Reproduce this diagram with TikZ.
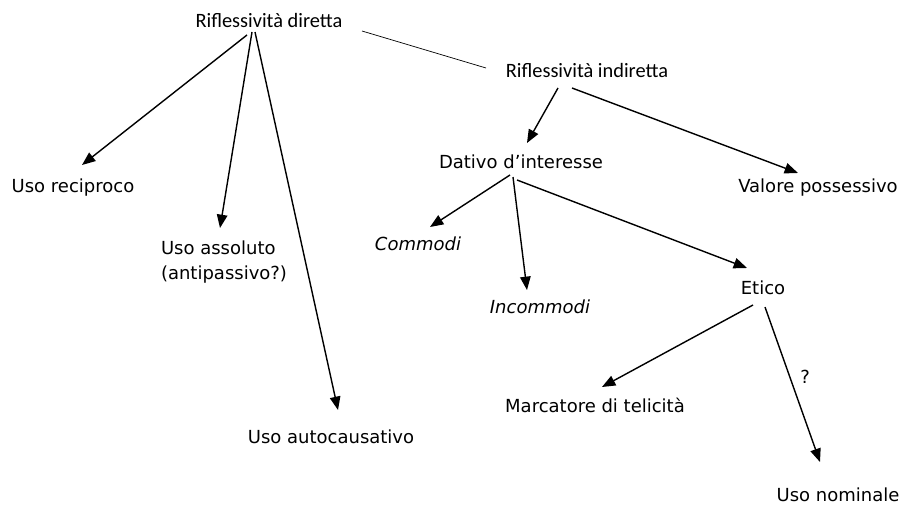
\documentclass[tikz,border=0pt]{standalone}
\usepackage{fontspec}
\setmainfont{DejaVu Sans}
\newfontfamily\topfont{Carlito}
\usetikzlibrary{arrows.meta,calc}

\begin{document}
\begin{tikzpicture}[
        x=0.025cm, y=-0.025cm,
        term/.style={inner sep=1pt, align=left, font=\fontsize{12.8}{18}\selectfont},
        root/.style={inner sep=1pt, font=\topfont\fontsize{14.5}{17}\selectfont},
        arrow/.style={-{Triangle[length=9.5pt, width=7.5pt]}, line width=1pt},
        link/.style={line width=0.5pt}
    ]
        \useasboundingbox (0,0) rectangle (904,506);

        \node[root] (diretta) at (269,20) {Riflessività diretta};
        \node[root] (indiretta) at (587,70) {Riflessività indiretta};

        \node[term] (reciproco) at (73,188) {Uso reciproco};
        \node[term] (assoluto) at (224,262) {Uso assoluto\\(antipassivo?)};
        \node[term] (autocaus) at (331,437) {Uso autocausativo};

        \node[term] (dativo) at (521,162) {Dativo d’interesse};
        \node[term] (possessivo) at (818,188) {Valore possessivo};
        \node[term] (commodi) at (418,244) {\itshape Commodi};
        \node[term] (incommodi) at (540,307) {\itshape Incommodi};
        \node[term] (etico) at (763,288) {Etico};
        \node[term] (telicita) at (595,405) {Marcatore di telicità};
        \node[term] (nominale) at (838,495) {Uso nominale};

        \draw[link] ($(diretta)+(93,11)$) -- ($(indiretta)+(-101,-2)$);

        \draw[arrow] ($(diretta)+(-22,15)$) -- ($(reciproco)+(9,-23)$);
        \draw[arrow] ($(diretta)+(-17,12)$) -- ($(assoluto)+(-4,-34)$);
        \draw[arrow] ($(diretta)+(-14,12)$) -- ($(autocaus)+(7,-27)$);

        \draw[arrow] ($(indiretta)+(-29,18)$) -- ($(dativo)+(6,-19)$);
        \draw[arrow] ($(indiretta)+(-15,18)$) -- ($(possessivo)+(-20,-15)$);

        \draw[arrow] ($(dativo)+(-11,13)$) -- ($(commodi)+(12,-17)$);
        \draw[arrow] ($(dativo)+(-8,15)$) -- ($(incommodi)+(-13,-17)$);
        \draw[arrow] ($(dativo)+(-4,18)$) -- ($(etico)+(-16,-20)$);

        \draw[arrow] ($(etico)+(-10,17)$) -- ($(telicita)+(7,-18)$);
        \draw[arrow] ($(etico)+(2,19)$) -- node[term, pos=0.45, right=6pt] {?} ($(nominale)+(-18,-33)$);
    \end{tikzpicture}
\end{document}
